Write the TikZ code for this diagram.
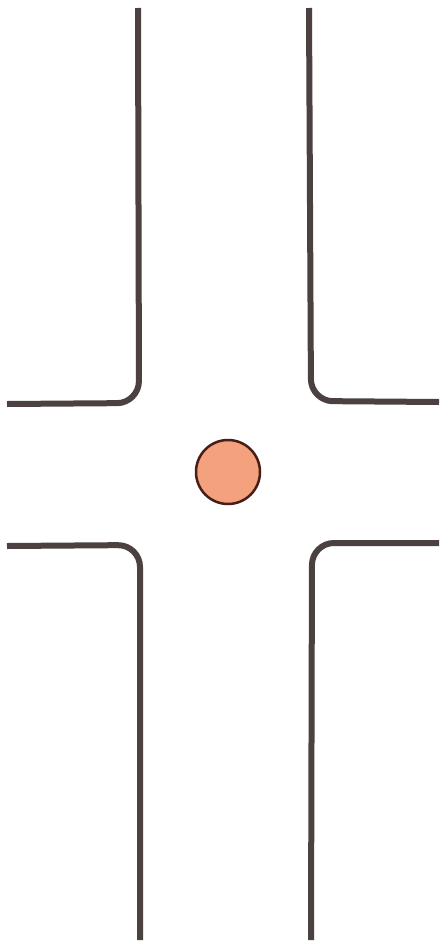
\documentclass[tikz,border=0pt]{standalone}
\definecolor{curbcol}{HTML}{4A4140}
\definecolor{lampfill}{HTML}{F3A27D}
\definecolor{lampedge}{HTML}{4A1E18}
\begin{document}
\begin{tikzpicture}[x=1pt,y=-1pt,
  curb/.style={draw=curbcol, line width=6pt, rounded corners=22pt},
  light/.style={circle, draw=lampedge, line width=2.5pt, fill=lampfill, minimum size=64pt, inner sep=0pt}]
\useasboundingbox[fill=white] (0,0) rectangle (439,942);
\draw[curb] (138,8) -- (139,403) -- (7,404);
\draw[curb] (309,8) -- (311,401) -- (439,402);
\draw[curb] (7,546) -- (140,545) -- (140,940);
\draw[curb] (439,543) -- (312,543) -- (311,940);
\node[light] (signal) at (228,472) {};
\end{tikzpicture}
\end{document}
